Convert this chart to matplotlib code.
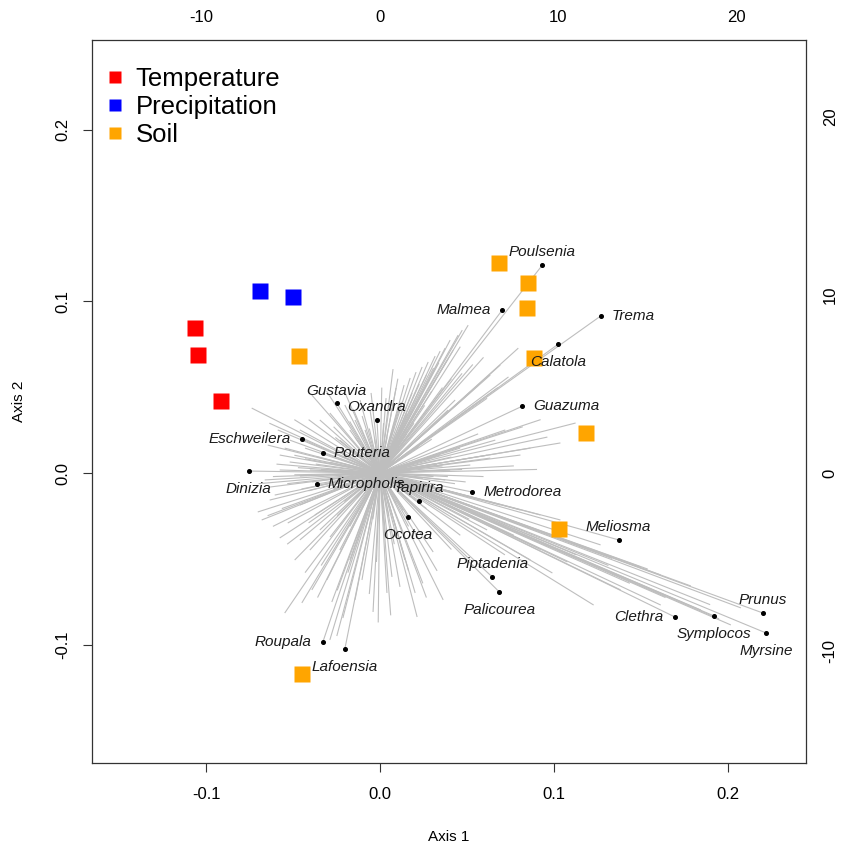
import matplotlib
matplotlib.use("Agg")
import matplotlib.pyplot as plt
from matplotlib.collections import LineCollection
from matplotlib.lines import Line2D

plt.rcParams['font.family'] = ['Liberation Sans', 'DejaVu Sans']
plt.rcParams['axes.unicode_minus'] = False

# ---- environmental scores (Axis 1 / Axis 2) ----
temp_x = [-0.1063, -0.1046, -0.0914]
temp_y = [0.0845, 0.0687, 0.0419]
precip_x = [-0.0690, -0.0500]
precip_y = [0.1060, 0.1025]
soil_x = [0.0684, 0.0851, 0.0845, -0.0466, 0.0885, 0.1184, 0.1029, -0.0448]
soil_y = [0.1223, 0.1107, 0.0961, 0.0681, 0.0670, 0.0233, -0.0326, -0.1171]

# ---- genus loadings (secondary axes units) ----
genus_names = ["Poulsenia", "Malmea", "Trema", "Calatola", "Guazuma", "Gustavia",
               "Oxandra", "Eschweilera", "Pouteria", "Dinizia", "Micropholis",
               "Tapirira", "Ocotea", "Metrodorea", "Meliosma", "Piptadenia",
               "Palicourea", "Clethra", "Symplocos", "Prunus", "Myrsine",
               "Roupala", "Lafoensia"]
genus_x = [9.10, 6.85, 12.36, 10.00, 7.98, -2.42, -0.17, -4.38, -3.20, -7.36, -3.54,
           2.19, 1.57, 5.17, 13.37, 6.29, 6.69, 16.52, 18.71, 21.46, 21.63, -3.20, -1.97]
genus_y = [11.69, 9.16, 8.82, 7.25, 3.76, 3.93, 2.98, 1.91, 1.12, 0.11, -0.62,
           -1.57, -2.47, -1.07, -3.76, -5.84, -6.69, -8.09, -8.03, -7.87, -8.99, -9.49, -9.89]

# ---- remaining (unlabelled) species loadings ----
other_x = [4.94, 4.61, 4.38, 3.93, 3.65, 3.37, 3.09, 2.70, 2.36, 2.02, 1.69, 1.35, 0.90, 0.73,
           0.34, 7.75, 6.74, 6.18, 5.51, 5.06, 4.21, 3.82,
           10.96, 10.11, 9.38, 8.43, 7.87, 7.02, 6.46, 6.18, 5.06, 4.49, 3.93, 3.37, 3.65, 2.81,
           17.42, 15.73, 14.61, 12.36, 11.97, 9.66, 8.43, 10.11, 8.99, 7.87, 6.74, 5.62, 15.73,
           17.98, 20.22, 19.66, 13.48, 3.54, 2.98, 2.08, 1.97, 5.06,
           -0.39, 0.39, 0.67, 1.12, 1.40, -2.08, -2.70, -3.82, -5.34, -4.38, -2.98, -1.40, -1.01,
           -1.69, -2.25, -2.81, -2.42,
           -5.62, -5.17, -6.85, -6.63, -4.49, -3.93, -4.78, -3.37, -6.18, -5.90, -4.49, -3.65,
           -6.46, -6.18, -5.62, -5.06, -4.49, -5.62, -6.29, -5.34, -3.93, -3.37, -2.81, -2.25,
           -7.19, -5.73, -3.82, -2.81, -3.37, -1.97, -1.40, -1.12, -4.49, -5.06, -2.25, -1.69,
           -0.84, -0.56,
           2.5, 3.0, 2.8, 2.2, 1.5, 0.8, 0.2, -0.6, -1.4, -2.2, -2.8, -3.0, -2.6, -2.0, -1.2,
           -0.4, 0.5, 1.3, 2.0, 2.7, 3.5, 3.4, -3.6, -3.8, 1.0, -1.0, 0.3, -0.8, 4.2, 4.0,
           -4.2, -4.4,
           1.0, 1.2, 1.8, 2.2, 2.6, 3.0, 3.3, 3.8, 4.1, 4.5, 2.9, 3.5, 4.0, 4.6, 5.2, 5.8,
           0.5, 1.5, 2.5, 6.0, 6.6, 7.2,
           16.0, 18.5, 19.0, 14.0, 12.8, 11.0, 10.5, 9.0, 7.5, 7.0, 6.0, 5.0, 4.5, 13.0, 15.0,
           5.5, 6.0, 7.5, 8.8, 4.8, 5.8, 9.0, 8.0,
           0.8, 1.6, 2.4, -0.2, -0.6, -1.8, -2.4, -3.3, -3.5, -0.1, 0.6, 2.6, 3.2, 4.0,
           -5.5, -6.0, -4.0, -2.8, -5.2, -4.2, -6.3,
           -5.8, -4.8, -6.0, -5.2, -4.6, -6.8, -4.0, -3.5, -4.2,
           -4.0, -3.0, -2.0, -0.5, -1.5, -2.6, -6.2, -4.8, 0.1,
           1.8, 2.0, 1.6, 1.0, 0.4, -0.3, -1.0, -1.7, -2.0, -1.8, -1.3, -0.6, 0.2, 0.9, 1.5,
           2.4, 3.8, 3.2, -3.3, -2.4, 2.9, -2.5, 2.6, -2.4, 1.9, -1.7, 1.6, -1.7, 4.6, -4.8]
other_y = [8.31, 8.03, 7.75, 7.47, 7.02, 6.85, 6.57, 6.24, 5.96, 5.67, 5.34, 4.94, 4.78, 5.84,
           4.21, 7.02, 6.07, 5.51, 4.94, 4.55, 4.10, 3.54,
           2.81, 1.69, 2.02, 1.40, 1.01, 2.42, 1.85, 0.84, 0.45, 1.40, 0.17, 1.01, -0.39, -0.67,
           -6.35, -5.73, -5.28, -4.04, -7.42, -5.62, -4.89, -2.64, -2.36, -2.08, -1.80, -1.52,
           -7.42, -7.70, -7.58, -8.54, -6.57, -7.13, -4.44, -8.09, -6.74, -4.89,
           -7.81, -6.74, -5.84, -6.40, -4.89, -8.15, -7.25, -6.57, -7.87, -7.30, -6.01, -7.13,
           -6.01, -4.89, -4.33, -9.38, -9.16,
           -3.65, -2.81, -2.19, -2.64, -3.76, -4.33, -4.89, -3.20, -1.52, -1.24, -1.80, -2.36,
           -0.39, -0.79, 0.17, 0.62, -0.17, 1.01, 1.57, 1.40, 0.17, -0.67, 0.17, -0.39,
           3.65, 2.42, 4.38, 3.37, 2.98, 3.82, 2.98, 4.10, 2.42, 1.85, 1.85, 2.42,
           2.42, 3.54,
           0.3, -0.2, 0.8, 1.5, 2.2, 2.6, 2.8, 2.5, 2.0, 1.2, 0.6, -0.1, -0.9, -1.6, -2.3,
           -2.6, -2.4, -2.1, -1.5, -0.8, 0.4, -1.0, 0.5, -0.5, 3.5, 3.2, -3.4, -3.1, -0.6, 0.9,
           0.8, -0.9,
           5.3, 4.0, 4.5, 5.0, 5.5, 5.9, 6.2, 6.4, 6.9, 7.1, 4.6, 4.8, 5.3, 5.6, 6.1, 6.5,
           3.6, 3.3, 3.8, 4.2, 4.8, 5.4,
           -7.0, -7.4, -8.2, -6.2, -5.2, -4.6, -5.0, -4.3, -3.5, -4.6, -3.2, -2.6, -3.5, -4.8,
           -5.4,
           2.2, 1.0, 0.4, 0.2, -0.5, -0.2, 3.0, 2.6,
           -4.0, -5.5, -6.2, -5.0, -6.8, -5.6, -6.6, -5.2, -7.0, -8.4, -8.0, -7.0, -5.5, -4.3,
           -2.0, -3.0, -2.8, -3.6, -4.0, -5.6, -2.4,
           0.5, 1.0, -0.2, -0.6, 0.3, -0.6, -1.0, 0.9, 1.4,
           3.0, 4.6, 4.6, 4.5, 3.6, 2.6, 2.8, 3.0, 4.8,
           0.5, -0.5, 1.2, 1.8, 2.0, 1.9, 1.6, 0.9, 0.1, -0.7, -1.4, -1.9, -2.0, -1.7, -1.1,
           -0.3, -0.2, 0.5, 0.2, -0.4, 1.9, 2.0, -2.0, -2.4, 2.8, 2.9, -3.0, -3.0, 0.2, -0.1]

# biplot scaling between secondary (loadings) and primary (scores) axes
SX = 97.5
SY = 96.5

# label side for each genus: 1 below, 2 left, 3 above, 4 right
label_side = {"Poulsenia": 3, "Malmea": 2, "Trema": 4, "Calatola": 1, "Guazuma": 4,
              "Gustavia": 3, "Oxandra": 3, "Eschweilera": 2, "Pouteria": 4, "Dinizia": 1,
              "Micropholis": 4, "Tapirira": 3, "Ocotea": 1, "Metrodorea": 4, "Meliosma": 3,
              "Piptadenia": 3, "Palicourea": 1, "Clethra": 2, "Symplocos": 1, "Prunus": 3,
              "Myrsine": 1, "Roupala": 2, "Lafoensia": 1}

fig = plt.figure(figsize=(8.48, 8.5), dpi=100)
ax = fig.add_axes([92 / 848, 87 / 850, 714 / 848, 723 / 850])
ax.set_xlim(-0.16552, 0.24483)
ax.set_ylim(-0.1689, 0.2522)

# species vectors
segs = []
for x, y in zip(other_x + genus_x, other_y + genus_y):
    segs.append([(0.0, 0.0), (x / SX, y / SY)])
ax.add_collection(LineCollection(segs, colors="#BEBEBE", linewidths=0.8, zorder=1))

# environmental squares
ms = 11.5
ax.plot(temp_x, temp_y, ls="none", marker="s", ms=ms, color="#FF0000", mec="none", zorder=2)
ax.plot(precip_x, precip_y, ls="none", marker="s", ms=ms, color="#0000FF", mec="none", zorder=2)
ax.plot(soil_x, soil_y, ls="none", marker="s", ms=ms, color="#FFA500", mec="none", zorder=2)

# labelled genera
gx = [v / SX for v in genus_x]
gy = [v / SY for v in genus_y]
ax.plot(gx, gy, ls="none", marker="o", ms=2.6, color="black", zorder=3)
offsets = {1: ((0, -8), "center", "top"), 2: ((-8, 0), "right", "center"),
           3: ((0, 4), "center", "bottom"), 4: ((8, 0), "left", "center")}
for name, x, y in zip(genus_names, gx, gy):
    off, ha, va = offsets[label_side[name]]
    ax.annotate(name, (x, y), xytext=off, textcoords="offset points", ha=ha, va=va,
                fontsize=11, fontstyle="italic", color="#1a1a1a", zorder=4)

# primary axes
ticks = [-0.1, 0.0, 0.1, 0.2]
ax.set_xticks(ticks)
ax.set_xticklabels(["-0.1", "0.0", "0.1", "0.2"])
ax.set_yticks(ticks)
ax.set_yticklabels(["-0.1", "0.0", "0.1", "0.2"], rotation=90, va="center")
ax.tick_params(axis="both", length=6.5, width=0.8, color="#333333", labelsize=12, pad=11)
ax.tick_params(axis="y", pad=9)
for sp in ax.spines.values():
    sp.set_linewidth(0.9)
    sp.set_color("#333333")
ax.set_xlabel("Axis 1", fontsize=11)
ax.set_ylabel("Axis 2", fontsize=11)
ax.xaxis.set_label_coords(0.5, -0.092)
ax.yaxis.set_label_coords(-0.092, 0.5)

# secondary axes for the loadings
top = ax.secondary_xaxis("top", functions=(lambda v: v * SX, lambda v: v / SX))
top.set_xticks([-10, 0, 10, 20])
top.tick_params(length=0, labelsize=12, pad=11)
right = ax.secondary_yaxis("right", functions=(lambda v: v * SY, lambda v: v / SY))
right.set_yticks([-10, 0, 10, 20])
right.set_yticklabels(["-10", "0", "10", "20"], rotation=90, va="center")
right.tick_params(length=0, labelsize=12, pad=12)
for s in (top, right):
    for sp in s.spines.values():
        sp.set_visible(False)

# legend
handles = [Line2D([], [], ls="none", marker="s", ms=9, color=c, mec="none")
           for c in ("#FF0000", "#0000FF", "#FFA500")]
ax.legend(handles, ["Temperature", "Precipitation", "Soil"], loc="upper left",
          bbox_to_anchor=(0.0, 0.981), frameon=False, fontsize=18.5, handlelength=0.8,
          handletextpad=0.4, labelspacing=0.16, borderaxespad=0.3, borderpad=0.2)

fig.savefig("out.png", dpi=100)
